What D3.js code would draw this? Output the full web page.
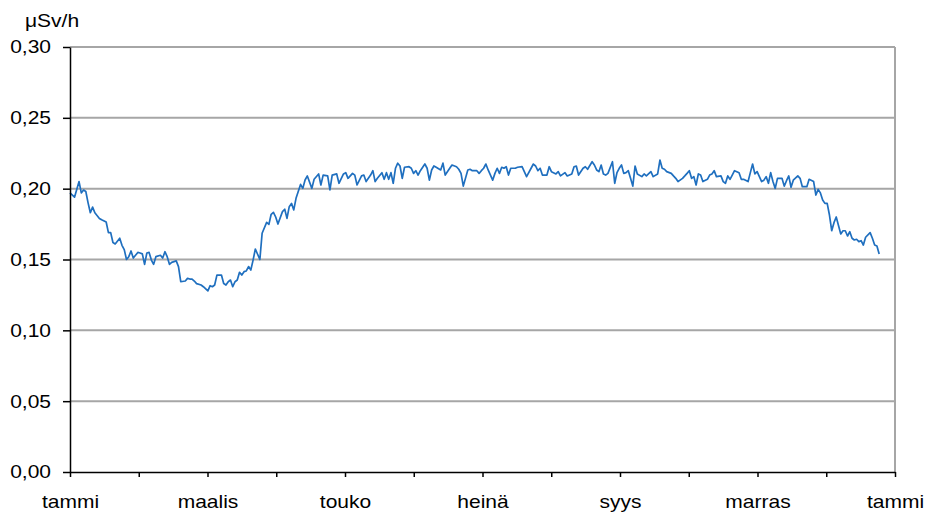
<!DOCTYPE html>
<html>
<head>
<meta charset="utf-8">
<title>Annosnopeus</title>
<style>
  body { margin: 0; background: #fff; }
  svg { display: block; font-family: "Liberation Sans", Arial, sans-serif; }
  .grid line { stroke: #a6a6a6; stroke-width: 2; }
  .axis text { font-size: 18.6px; fill: #000; }
  .axis path, .axis line { stroke: #000; stroke-width: 1.5; }
</style>
</head>
<body>
<svg width="927" height="512"></svg>
<script src="https://d3js.org/d3.v7.min.js"></script>
<script>
// month labels on every other tick
const months = ['tammi', '', 'maalis', '', 'touko', '', 'heinä', '', 'syys', '', 'marras', '', 'tammi'];
const yTicks = [0, 0.05, 0.10, 0.15, 0.20, 0.25, 0.30];
const unit = 'μSv/h';

// day of year
const days = [0,2,4,5,6,7,8,9,10,11,13,14,16,17,18,19,20,22,23,24,25,26,27,28,30,31,32,33,34,35,36,37,38,40,41,42,43,44,45,47,48,49,51,52,53,54,55,56,58,59,61,62,63,64,65,67,68,69,70,71,72,73,74,75,76,77,78,79,80,81,82,83,84,85,87,88,89,90,91,
  92,94,95,96,97,98,99,100,102,103,104,105,107,108,110,111,112,114,115,116,118,119,121,122,123,125,126,127,129,130,131,133,134,135,136,138,139,140,141,142,143,144,145,146,147,148,150,151,152,153,154,155,157,158,159,160,161,162,164,165,166,168,169,171,172,173,174,176,177,178,180,181,
  182,183,184,185,187,188,189,190,191,192,193,194,195,197,198,200,201,202,204,205,206,207,208,209,211,212,213,215,216,217,219,220,222,223,224,225,227,228,229,231,232,233,234,235,236,237,238,240,241,242,243,244,245,246,247,248,249,250,251,253,254,255,257,258,260,261,262,263,264,266,267,268,269,
  271,272,273,274,275,276,277,278,279,280,282,283,284,285,286,288,289,290,291,292,293,294,296,297,298,300,301,302,303,304,306,307,308,309,310,311,312,313,315,316,317,318,319,320,322,323,324,326,327,329,330,331,332,333,334,335,336,337,338,339,341,342,343,344,345,346,347,348,349,350,351,352,354,355,356,357,358];

// dose rate µSv/h
const values = [0.197,0.194,0.205,0.197,0.199,0.198,0.190,0.183,0.187,0.183,0.179,0.178,0.1765,0.169,0.169,0.162,0.161,0.165,0.160,0.157,0.150,0.152,0.156,0.151,0.155,0.1546,0.154,0.1466,0.1546,0.155,0.1496,0.1466,0.152,0.153,0.151,0.1555,0.152,0.1466,0.148,0.149,0.145,0.1343,0.1348,0.1367,0.1362,0.1362,0.1348,0.133,0.132,0.1308,0.1278,0.1315,0.1308,0.132,0.139,0.139,0.133,0.132,0.1343,0.1355,0.1308,0.1343,0.1355,0.141,0.139,0.1414,0.1419,0.145,0.1426,0.1496,0.1574,0.1537,0.150,0.1685,0.1762,0.1748,0.1819,0.1833,0.180,
  0.175,0.1838,0.1855,0.179,0.1873,0.1896,0.185,0.1932,0.203,0.2002,0.2061,0.209,0.2002,0.2066,0.2104,0.2026,0.2096,0.209,0.1991,0.2096,0.2104,0.2038,0.2104,0.2113,0.2073,0.2108,0.2096,0.2026,0.209,0.2096,0.205,0.2096,0.2127,0.205,0.2073,0.2113,0.2066,0.2113,0.2066,0.2113,0.2038,0.2144,0.218,0.216,0.2073,0.2151,0.2155,0.2144,0.2108,0.2127,0.2096,0.2127,0.2174,0.2144,0.206,0.2132,0.216,0.2151,0.2132,0.218,0.2096,0.2144,0.2167,0.2155,0.2137,0.2108,0.2018,0.2132,0.2137,0.2127,0.2127,0.2108,
  0.2127,0.2144,0.2174,0.2132,0.206,0.2108,0.2144,0.2108,0.2151,0.2144,0.2155,0.2096,0.2144,0.2144,0.2151,0.2155,0.212,0.2085,0.2144,0.2174,0.216,0.2127,0.2144,0.2096,0.2096,0.2155,0.212,0.2104,0.212,0.209,0.2113,0.209,0.2104,0.2155,0.216,0.2096,0.2144,0.2155,0.2137,0.219,0.2167,0.2132,0.212,0.2167,0.2104,0.2096,0.2108,0.219,0.2038,0.2113,0.2144,0.2167,0.2108,0.2113,0.2127,0.2073,0.2018,0.216,0.2104,0.2085,0.2104,0.209,0.212,0.2085,0.2104,0.2202,0.2144,0.2137,0.212,0.2108,0.209,0.2073,0.205,
  0.2073,0.209,0.2108,0.2127,0.2073,0.2085,0.2026,0.2104,0.2096,0.205,0.2066,0.2096,0.2104,0.2127,0.2085,0.209,0.205,0.2038,0.209,0.2066,0.2096,0.2127,0.2113,0.2066,0.2066,0.205,0.2113,0.2174,0.2104,0.212,0.205,0.206,0.2085,0.2038,0.2113,0.205,0.2002,0.2073,0.2073,0.2018,0.2056,0.209,0.201,0.206,0.209,0.2073,0.2014,0.2014,0.2066,0.205,0.1955,0.1995,0.197,0.192,0.1896,0.1896,0.1814,0.1703,0.176,0.180,0.168,0.1703,0.1703,0.1666,0.1696,0.165,0.1638,0.1643,0.1626,0.1633,0.1602,0.1657,0.169,0.165,0.1602,0.1595,0.1539];

const svg = d3.select('svg');
const margin = { top: 47, right: 32, bottom: 40, left: 70 };
const width = +svg.attr('width') - margin.left - margin.right;
const height = +svg.attr('height') - margin.top - margin.bottom;
const stretch = 1.13; // labels in the picture are a bit wider than the font

const fi = d3.formatLocale({ decimal: ',', thousands: ' ', grouping: [3], currency: ['', ''] });
const fmt = fi.format('.2f');

const x = d3.scaleLinear().domain([0, 365]).range([0, width]);
const xMonth = d3.scaleLinear().domain([0, 12]).range([0, width]);
const y = d3.scaleLinear().domain([0, 0.30]).range([height, 0]);

const g = svg.append('g').attr('transform', `translate(${margin.left},${margin.top})`);

// horizontal gridlines
g.append('g').attr('class', 'grid')
  .selectAll('line')
  .data(yTicks.slice(1))
  .join('line')
    .attr('x1', 0).attr('x2', width)
    .attr('y1', d => y(d)).attr('y2', d => y(d));

// right border of plot area
g.append('line')
  .attr('x1', width).attr('x2', width)
  .attr('y1', 0).attr('y2', height)
  .attr('stroke', '#a6a6a6').attr('stroke-width', 2);

// the line
const line = d3.line()
  .x((d, i) => x(days[i]))
  .y(d => y(d));

g.append('path')
  .datum(values)
  .attr('fill', 'none')
  .attr('stroke', '#1f6fbf')
  .attr('stroke-width', 1.7)
  .attr('stroke-linejoin', 'round')
  .attr('d', line);

// axes
const yAxis = g.append('g').attr('class', 'axis')
  .call(d3.axisLeft(y).tickValues(yTicks).tickFormat(fmt).tickSize(7).tickSizeOuter(0));
yAxis.selectAll('text')
  .attr('x', 0)
  .attr('transform', `translate(-19,0) scale(${stretch},1)`);

const xAxis = g.append('g').attr('class', 'axis')
  .attr('transform', `translate(0,${height})`)
  .call(d3.axisBottom(xMonth).tickValues(d3.range(13)).tickFormat(i => months[i]).tickSize(5).tickSizeOuter(0));
xAxis.selectAll('text')
  .attr('y', 0).attr('dy', 0)
  .attr('transform', `translate(0,36) scale(${stretch},1)`);

// unit label
svg.append('text')
  .attr('font-size', 18.6)
  .attr('transform', `translate(25,27) scale(${stretch},1)`)
  .text(unit);
</script>
</body>
</html>
